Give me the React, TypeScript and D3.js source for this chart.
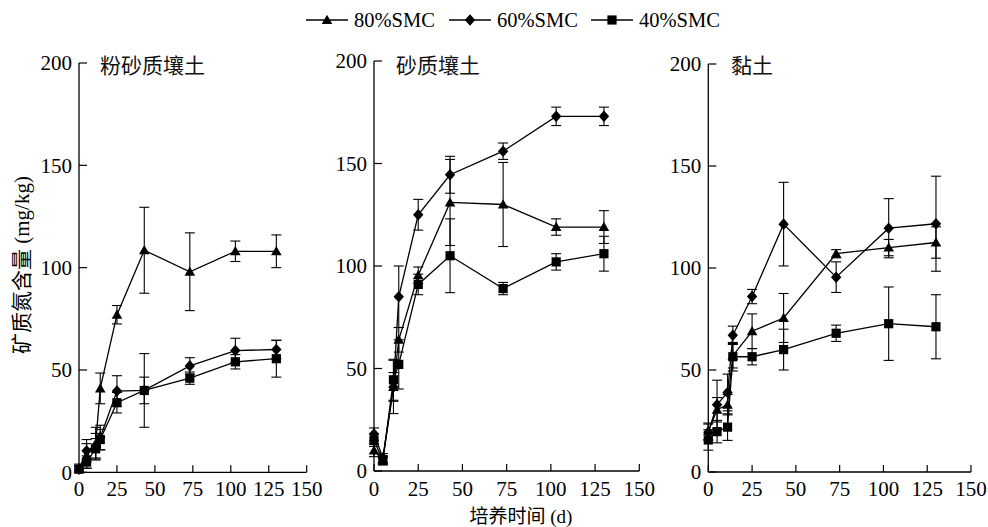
import React from "react";
import * as d3 from "d3";

// ---- data ----
const days = [0, 5, 11, 14, 25, 43, 73, 103, 130];
const seriesNames = ["80%SMC", "60%SMC", "40%SMC"];
const panelTitles = ["粉砂质壤土", "砂质壤土", "黏土"];
const xTicks = [0, 25, 50, 75, 100, 125, 150];
const yTicks = [0, 50, 100, 150, 200];

// 粉砂质壤土
const p1_80 = [2, 8, 14, 41, 77, 108.5, 98, 108, 108];
const p1_80e = [2, 6, 8, 7.5, 4.5, 21, 19, 5, 8];
const p1_60 = [1.5, 10.5, 13, 17, 39.7, 40, 52, 59.5, 60];
const p1_60e = [1.5, 5.5, 6, 6, 7.5, 18, 4, 6, 4.5];
const p1_40 = [1.5, 5, 11.5, 16, 34, 40, 46, 54, 55.5];
const p1_40e = [1.5, 3, 5, 5, 5, 6.5, 3, 3.5, 9];

// 砂质壤土
const p2_80 = [10, 5.5, 41, 64, 95.5, 131, 130, 119, 119];
const p2_80e = [3, 2, 7, 6, 4, 21, 20.5, 4, 8];
const p2_60 = [18, 6.5, 41, 85, 125, 144.5, 156, 173, 173];
const p2_60e = [3, 2, 13, 15, 7.5, 9, 4, 4.5, 4.5];
const p2_40 = [15, 5, 44.5, 52, 91, 105, 89, 102, 106];
const p2_40e = [3, 2, 10, 12, 5, 18, 3, 4, 8.5];

// 黏土
const p3_80 = [20, 30.5, 33, 57, 69, 75.5, 107, 110, 112.5];
const p3_80e = [4, 6, 5, 6, 8.5, 12, 2, 4, 7.7];
const p3_60 = [19.5, 33, 39, 67, 86, 121.5, 95.5, 119.5, 121.7];
const p3_60e = [4, 12, 9, 4.5, 3.5, 20.5, 7.5, 14.5, 23.3];
const p3_40 = [15.7, 19.8, 22, 56.5, 56.5, 60, 68, 72.7, 71.2];
const p3_40e = [5, 5.5, 6.5, 7, 4, 10, 4, 18, 15.7];

const panelData = [
  [[p1_80, p1_80e], [p1_60, p1_60e], [p1_40, p1_40e]],
  [[p2_80, p2_80e], [p2_60, p2_60e], [p2_40, p2_40e]],
  [[p3_80, p3_80e], [p3_60, p3_60e], [p3_40, p3_40e]],
];

// ---- layout ----
const W = 988;
const H = 527;
const panelLayout = [
  { x0: 79, x1: 306.7, yb: 472.3, yt: 63, titleX: 100 },
  { x0: 374, x1: 639.3, yb: 471, yt: 61, titleX: 396 },
  { x0: 708.3, x1: 971, yb: 472, yt: 64, titleX: 731 },
];
const serif = "'Liberation Serif', 'Times New Roman', serif";
const cjk = "'Noto Sans CJK SC', sans-serif";
const fs = 21;

function Marker({ kind, x, y }: { kind: number; x: number; y: number }) {
  if (kind === 0) {
    const p = `M${x},${y - 5.2}L${x + 5.3},${y + 4}L${x - 5.3},${y + 4}Z`;
    return <path d={p} fill="#000" />;
  }
  if (kind === 1) {
    const p = `M${x},${y - 5.8}L${x + 5.2},${y}L${x},${y + 5.8}L${x - 5.2},${y}Z`;
    return <path d={p} fill="#000" />;
  }
  return <rect x={x - 4.6} y={y - 4.6} width={9.2} height={9.2} fill="#000" />;
}

function Panel({ idx }: { idx: number }) {
  const L = panelLayout[idx];
  const x = d3.scaleLinear().domain([0, 150]).range([L.x0, L.x1]);
  const y = d3.scaleLinear().domain([0, 200]).range([L.yb, L.yt]);
  const line = d3
    .line<number>()
    .x((_, i) => x(days[i]))
    .y((v) => y(v));
  const series = panelData[idx];
  return (
    <g>
      <line x1={L.x0} x2={L.x0} y1={L.yb} y2={L.yt} stroke="#000" strokeWidth={1.3} />
      <line x1={L.x0} x2={L.x1} y1={L.yb} y2={L.yb} stroke="#000" strokeWidth={1.3} />
      {yTicks.map((t) => (
        <g key={"y" + t}>
          <line x1={L.x0} x2={L.x0 + 8} y1={y(t)} y2={y(t)} stroke="#000" strokeWidth={1.2} />
          <text x={L.x0 - 7} y={y(t)} dy="0.35em" textAnchor="end" fontFamily={serif} fontSize={fs}>
            {t}
          </text>
        </g>
      ))}
      {xTicks.map((t) => (
        <g key={"x" + t}>
          <line x1={x(t)} x2={x(t)} y1={L.yb} y2={L.yb - 7} stroke="#000" strokeWidth={1.2} />
          <text x={x(t)} y={496} textAnchor="middle" fontFamily={serif} fontSize={fs}>
            {t}
          </text>
        </g>
      ))}
      <text x={L.titleX} y={73} fontFamily={cjk} fontSize={fs} fill="#111">
        {panelTitles[idx]}
      </text>
      {series.map(([vals, errs], s) => (
        <g key={"e" + s}>
          {vals.map((v, i) => {
            const cx = x(days[i]);
            const ya = y(v + errs[i]);
            const yb = y(Math.max(0, v - errs[i]));
            return (
              <g key={i}>
                <line x1={cx} x2={cx} y1={ya} y2={yb} stroke="#000" strokeWidth={1.1} />
                <line x1={cx - 5} x2={cx + 5} y1={ya} y2={ya} stroke="#000" strokeWidth={1.1} />
                <line x1={cx - 5} x2={cx + 5} y1={yb} y2={yb} stroke="#000" strokeWidth={1.1} />
              </g>
            );
          })}
        </g>
      ))}
      {series.map(([vals], s) => (
        <path key={"l" + s} d={line(vals) || ""} fill="none" stroke="#000" strokeWidth={1.3} />
      ))}
      {series.map(([vals], s) => (
        <g key={"m" + s}>
          {vals.map((v, i) => (
            <Marker key={i} kind={s} x={x(days[i])} y={y(v)} />
          ))}
        </g>
      ))}
    </g>
  );
}

const legendX = [306, 449, 591];

export default function App() {
  return (
    <svg
      width={W}
      height={H}
      viewBox={`0 0 ${W} ${H}`}
      style={{ position: "absolute", left: 0, top: 0, background: "#fff" }}
    >
      <rect x={0} y={0} width={W} height={H} fill="#fff" />
      {seriesNames.map((n, i) => (
        <g key={n}>
          <line x1={legendX[i]} x2={legendX[i] + 42} y1={20} y2={20} stroke="#000" strokeWidth={1.3} />
          <Marker kind={i} x={legendX[i] + 21} y={20} />
          <text x={legendX[i] + 48} y={20} dy="0.35em" fontFamily={serif} fontSize={20.5}>
            {n}
          </text>
        </g>
      ))}
      {[0, 1, 2].map((i) => (
        <Panel key={i} idx={i} />
      ))}
      <text transform="translate(22,265) rotate(-90)" textAnchor="middle" dy="0.35em" fontSize={fs}>
        <tspan fontFamily={cjk}>矿质氮含量</tspan>
        <tspan fontFamily={serif}> (mg/kg)</tspan>
      </text>
      <text x={521} y={516} dy="0.35em" textAnchor="middle" fontSize={19}>
        <tspan fontFamily={cjk}>培养时间</tspan>
        <tspan fontFamily={serif}> (d)</tspan>
      </text>
    </svg>
  );
}
